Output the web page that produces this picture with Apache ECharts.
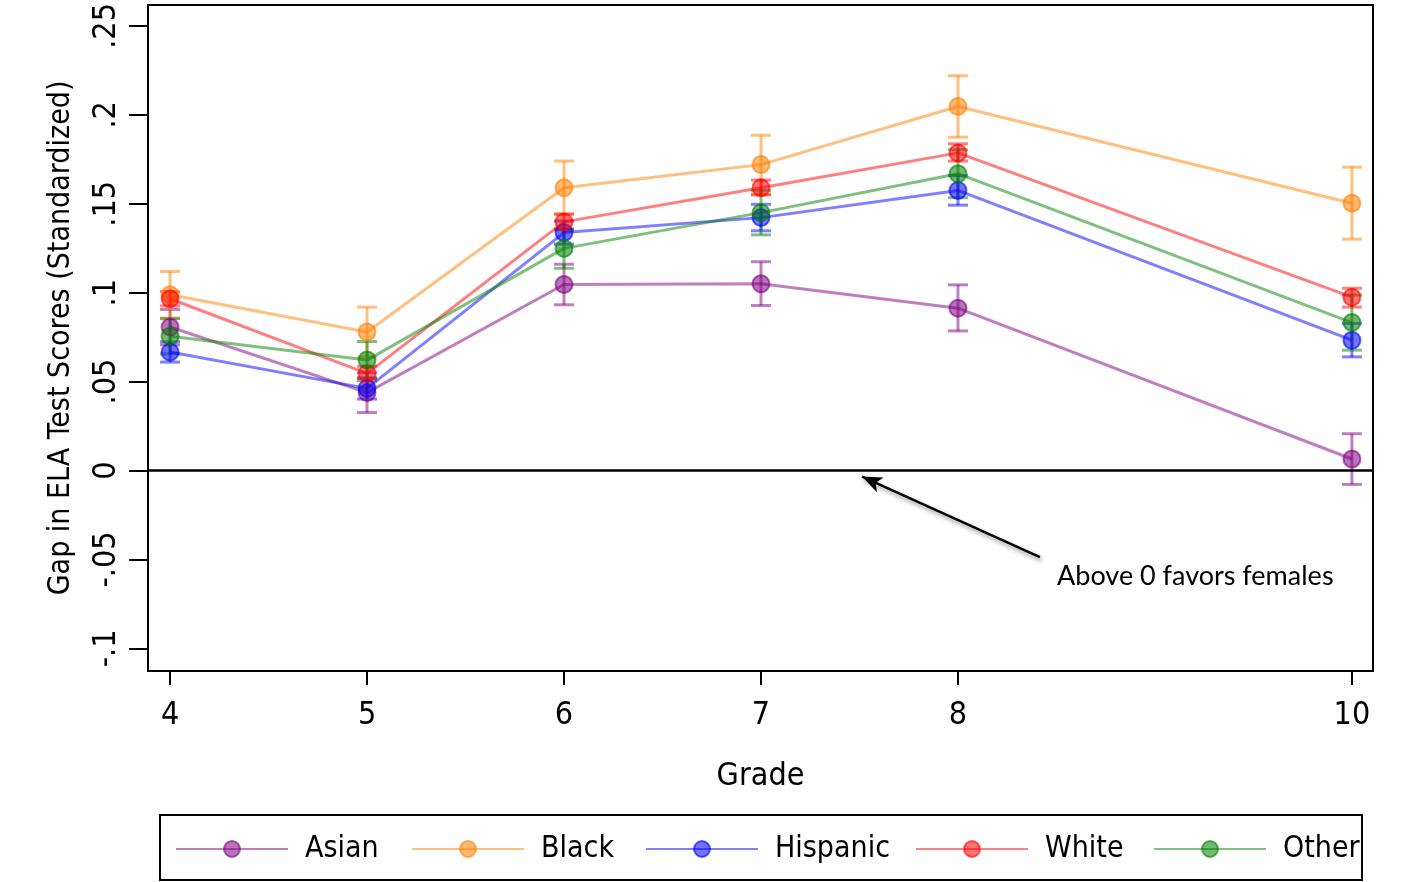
<!DOCTYPE html>
<html>
<head>
<meta charset="utf-8">
<script src="https://cdn.jsdelivr.net/npm/echarts@6/dist/echarts.min.js"></script>
<style>html,body{margin:0;padding:0;background:#fff;}#c{width:1409px;height:882px;}</style>
</head>
<body>
<div id="c"></div>
<script>
const grades = [4, 5, 6, 7, 8, 10];
const groups = ['Asian', 'Black', 'Hispanic', 'White', 'Other'];
const yTicks = [-0.1, -0.05, 0, 0.05, 0.1, 0.15, 0.2, 0.25];
const yTickLabels = ['-.1', '-.05', '0', '.05', '.1', '.15', '.2', '.25'];

const asianEst = [0.0807, 0.0438, 0.1046, 0.1050, 0.0913, 0.0065];
const asianLo  = [0.0707, 0.0326, 0.0932, 0.0928, 0.0785, -0.0078];
const asianHi  = [0.0906, 0.0550, 0.1160, 0.1174, 0.1044, 0.0207];

const blackEst = [0.0988, 0.0779, 0.1590, 0.1720, 0.2047, 0.1503];
const blackLo  = [0.0858, 0.0639, 0.1440, 0.1555, 0.1874, 0.1301];
const blackHi  = [0.1119, 0.0919, 0.1740, 0.1885, 0.2220, 0.1706];

const hispEst = [0.0667, 0.0462, 0.1338, 0.1422, 0.1575, 0.0733];
const hispLo  = [0.0610, 0.0402, 0.1273, 0.1348, 0.1492, 0.0639];
const hispHi  = [0.0724, 0.0522, 0.1403, 0.1497, 0.1658, 0.0827];

const whiteEst = [0.0966, 0.0546, 0.1398, 0.1590, 0.1786, 0.0975];
const whiteLo  = [0.0926, 0.0506, 0.1353, 0.1550, 0.1740, 0.0919];
const whiteHi  = [0.1006, 0.0586, 0.1443, 0.1633, 0.1837, 0.1025];

const otherEst = [0.0755, 0.0621, 0.1249, 0.1450, 0.1669, 0.0832];
const otherLo  = [0.0656, 0.0517, 0.1137, 0.1325, 0.1534, 0.0677];
const otherHi  = [0.0854, 0.0725, 0.1359, 0.1575, 0.1804, 0.0987];

const rgb = ['128,0,128', '255,128,0', '0,0,255', '255,0,0', '0,128,0'];
const ests = [asianEst, blackEst, hispEst, whiteEst, otherEst];
const los = [asianLo, blackLo, hispLo, whiteLo, otherLo];
const his = [asianHi, blackHi, hispHi, whiteHi, otherHi];

const annotText = 'Above 0 favors females';
const arrow1 = [[8.416, -0.0487], [7.513, -0.0034]];
const arrow2 = [[10.40, 0.0220], [10.025, 0.0062]];
const annotPos = [8.503, -0.0593];

const FONT = "'DejaVu Sans Condensed', 'Liberation Sans', sans-serif";

const chart = echarts.init(document.getElementById('c'), null, {renderer: 'canvas'});

const series = [];
groups.forEach((g, i) => {
  const col = 'rgba(' + rgb[i] + ',0.5)';
  series.push({
    type: 'custom',
    name: g + ' CI',
    z: 2,
    renderItem: function (params, api) {
      const x = api.value(0);
      const lo = api.coord([x, api.value(1)]);
      const hi = api.coord([x, api.value(2)]);
      const w = 10;
      const st = {stroke: col, lineWidth: 3, fill: null};
      return {
        type: 'group',
        children: [
          {type: 'line', shape: {x1: lo[0], y1: lo[1], x2: hi[0], y2: hi[1]}, style: st},
          {type: 'line', shape: {x1: lo[0] - w, y1: lo[1], x2: lo[0] + w, y2: lo[1]}, style: st},
          {type: 'line', shape: {x1: hi[0] - w, y1: hi[1], x2: hi[0] + w, y2: hi[1]}, style: st}
        ]
      };
    },
    data: grades.map((x, k) => [x, los[i][k], his[i][k]]),
    silent: true
  });
});
groups.forEach((g, i) => {
  const s = {
    type: 'line',
    name: g,
    z: 3,
    clip: false,
    data: grades.map((x, k) => [x, ests[i][k]]),
    symbol: 'circle',
    symbolSize: 17,
    showAllSymbol: true,
    lineStyle: {color: 'rgba(' + rgb[i] + ',0.5)', width: 3},
    itemStyle: {color: 'rgba(' + rgb[i] + ',0.55)', borderColor: 'rgba(' + rgb[i] + ',0.6)', borderWidth: 2},
    emphasis: {disabled: true},
    animation: false
  };
  if (i === 0) {
    s.markLine = {
      silent: true,
      animation: false,
      symbol: ['none', 'none'],
      label: {show: false},
      lineStyle: {color: '#000', width: 2.5, type: 'solid'},
      data: [
        {yAxis: 0},
        [
          {coord: arrow1[0], symbol: 'none', lineStyle: {color: '#000', width: 2.5, type: 'solid', shadowBlur: 4, shadowColor: 'rgba(0,0,0,0.45)', shadowOffsetX: 2, shadowOffsetY: 3}},
          {coord: arrow1[1], symbol: 'arrow', symbolSize: [12, 20]}
        ],
        [
          {coord: arrow2[0], symbol: 'none', lineStyle: {color: '#000', width: 2.5, type: 'solid', shadowBlur: 4, shadowColor: 'rgba(0,0,0,0.45)', shadowOffsetX: 2, shadowOffsetY: 3}},
          {coord: arrow2[1], symbol: 'arrow', symbolSize: [12, 20]}
        ]
      ]
    };
  }
  series.push(s);
});

const legendLefts = [175, 411, 645, 915, 1153];
const legends = groups.map((g, i) => ({
  data: [g],
  left: legendLefts[i],
  top: 834,
  orient: 'horizontal',
  itemWidth: 112,
  itemHeight: 20,
  selectedMode: false,
  padding: 0,
  textStyle: {fontFamily: FONT, fontSize: 30, color: '#000', padding: [0, 0, 0, 12]}
}));

chart.setOption({
  animation: false,
  backgroundColor: '#fff',
  grid: {left: 148, right: 36, top: 3, bottom: 211, show: true, borderColor: '#000', borderWidth: 2, backgroundColor: 'transparent'},
  legend: legends,
  xAxis: {
    type: 'value',
    min: 3.888, max: 10.107,
    name: 'Grade',
    nameLocation: 'middle',
    nameGap: 90,
    nameTextStyle: {fontFamily: FONT, fontSize: 32, color: '#000'},
    splitLine: {show: false},
    axisLine: {show: true, onZero: false, lineStyle: {color: '#000', width: 2}},
    axisTick: {show: true, length: 14, lineStyle: {color: '#000', width: 2}, customValues: grades},
    axisLabel: {fontFamily: FONT, fontSize: 32, color: '#000', margin: 29, customValues: grades}
  },
  yAxis: {
    type: 'value',
    min: -0.1127, max: 0.2618,
    name: 'Gap in ELA Test Scores (Standardized)',
    nameLocation: 'middle',
    nameGap: 72,
    nameRotate: 90,
    nameTextStyle: {fontFamily: FONT, fontSize: 30, color: '#000'},
    splitLine: {show: false},
    axisLine: {show: true, onZero: false, lineStyle: {color: '#000', width: 2}},
    axisTick: {show: true, length: 19, lineStyle: {color: '#000', width: 2}, customValues: yTicks},
    axisLabel: {
      fontFamily: FONT, fontSize: 32, color: '#000', rotate: 90, margin: 25,
      customValues: yTicks,
      formatter: function (v) {
        const idx = yTicks.findIndex(t => Math.abs(t - v) < 1e-6);
        return idx >= 0 ? yTickLabels[idx] : '';
      }
    }
  },
  series: series
});

const tp = chart.convertToPixel({gridIndex: 0}, annotPos);
chart.setOption({
  graphic: [
    {type: 'rect', shape: {x: 160, y: 815, width: 1202, height: 65}, style: {fill: null, stroke: '#000', lineWidth: 2}, silent: true},
    {type: 'text', x: tp[0], y: tp[1], style: {text: annotText, fontFamily: "Lato, 'DejaVu Sans', sans-serif", fontSize: 27, fill: '#000', verticalAlign: 'middle'}, silent: true}
  ]
});
</script>
</body>
</html>
